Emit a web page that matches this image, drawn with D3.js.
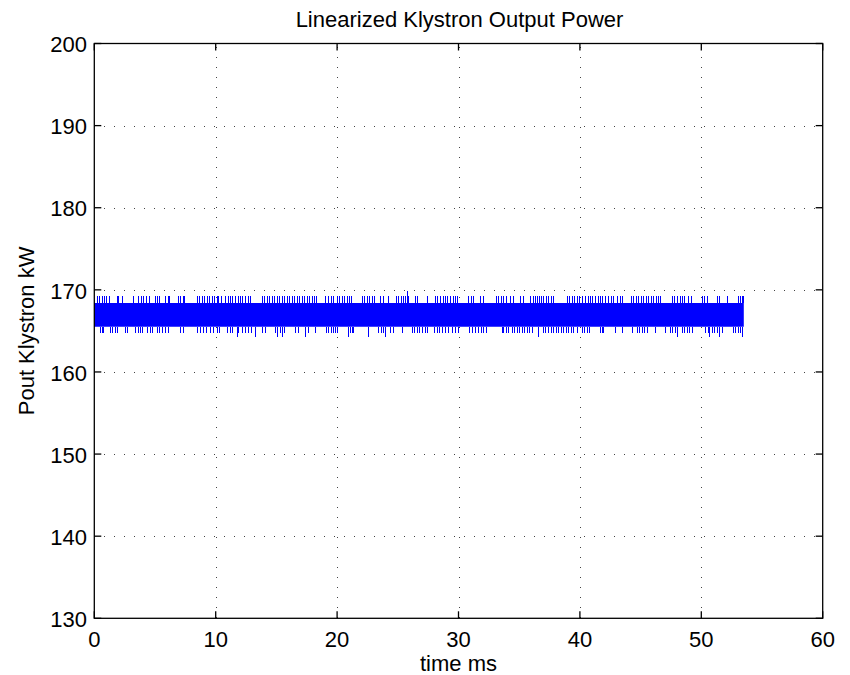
<!DOCTYPE html>
<html>
<head>
<meta charset="utf-8">
<script src="https://cdn.jsdelivr.net/npm/d3@7"></script>
<style>
  html, body { margin: 0; padding: 0; background: #fff; }
  svg { display: block; font-family: "Liberation Sans", Arial, Helvetica, sans-serif; }
</style>
</head>
<body>
<svg id="chart"></svg>
<script>
// axis ranges and ticks
const xDomain = [0, 60];
const yDomain = [130, 200];
const xTicks = [0, 10, 20, 30, 40, 50, 60];
const yTicks = [130, 140, 150, 160, 170, 180, 190, 200];

// solid noise band (ms, kW)
const bandTime = [0, 53.5];
const bandLow = [165.5, 165.5];
const bandHigh = [168.4, 168.4];

// spike levels (kW)
const upLevel = 169.2;
const downLevel = 164.8;
const deepLevel = 164.2;

// spike times (ms)
const upSpikes = [
  0.19, 0.38, 0.6, 0.82, 0.93, 1.21, 1.84, 1.98, 2.25, 3.21, 3.63, 3.85, 4.04, 4.26, 4.51,
  5.0, 5.14, 5.33, 5.82, 6.04, 6.15, 6.87, 7.06, 7.28, 7.42, 8.43, 8.63, 8.85, 9.07, 9.26,
  9.45, 9.67, 9.89, 10.08, 10.22, 10.44, 10.77, 10.99, 11.18, 11.37, 11.59, 11.81, 12.01,
  12.2, 12.42, 12.64, 12.83, 13.79, 14.01, 14.2, 14.4, 14.62, 14.84, 15.03, 15.22, 15.44,
  15.66, 15.85, 16.04, 16.26, 16.48, 16.68, 16.87, 17.09, 17.31, 17.5, 17.69, 17.91, 18.13,
  18.26, 19.0, 19.28, 19.47, 19.69, 19.96, 20.18, 20.38, 20.57, 20.79, 21.01, 21.12, 22.02,
  22.22, 22.43, 22.65, 22.85, 23.04, 23.53, 23.75, 24.22, 24.85, 25.04, 25.24, 25.45, 25.59,
  25.87, 26.42, 26.61, 27.43, 28.06, 28.26, 28.48, 28.7, 28.89, 29.08, 29.3, 29.52, 29.71,
  29.85, 30.81, 31.0, 31.22, 31.77, 31.99, 33.09, 33.28, 33.47, 33.69, 33.91, 34.24, 34.52,
  35.07, 35.34, 35.89, 36.11, 36.3, 36.5, 36.66, 36.8, 36.99, 37.18, 37.4, 37.62, 37.81,
  38.91, 39.1, 39.32, 39.54, 39.73, 39.92, 40.14, 40.42, 40.64, 40.83, 41.03, 41.24, 41.46,
  41.66, 41.79, 42.07, 42.34, 42.56, 42.75, 43.03, 43.3, 43.49, 44.21, 44.4, 44.59, 44.81,
  45.03, 45.22, 45.42, 45.64, 45.86, 46.05, 46.24, 46.46, 46.6, 47.56, 47.78, 47.97, 48.25,
  48.39, 48.6, 48.93, 49.15, 50.03, 50.25, 50.44, 51.26, 51.46, 52.09, 53.05, 53.19, 53.32,
  53.46
];
const tallSpike = [25.73, 169.9];

const downSpikes = [
  0.47, 0.6, 0.74, 1.29, 1.43, 1.7, 1.84, 2.53, 2.66, 3.35, 3.63, 3.76, 3.96, 4.31, 4.59,
  4.73, 5.14, 5.33, 5.55, 5.82, 6.04, 7.06, 7.34, 8.43, 8.71, 8.98, 9.18, 9.53, 9.81, 10.08,
  10.27, 10.91, 11.18, 11.32, 11.87, 12.14, 12.42, 12.69, 12.88, 13.79, 14.07, 14.89, 15.3,
  15.66, 16.54, 16.81, 17.58, 18.18, 19.08, 19.28, 19.47, 19.69, 19.83, 20.02, 21.06, 21.2,
  21.34, 23.4, 23.59, 23.75, 24.36, 24.58, 25.32, 26.14, 26.34, 26.55, 26.77, 26.97, 27.24,
  27.43, 27.98, 28.2, 28.42, 28.61, 28.89, 29.16, 29.44, 29.71, 29.99, 30.89, 31.09, 31.36,
  31.64, 31.83, 32.05, 32.27, 33.56, 33.69, 33.91, 34.1, 34.38, 34.57, 34.79, 35.01, 35.2,
  35.4, 35.62, 35.83, 36.03, 36.99, 37.13, 37.4, 37.62, 37.81, 38.0, 38.22, 38.44, 38.64,
  38.83, 39.05, 39.27, 39.46, 39.73, 40.14, 40.36, 40.56, 40.75, 41.66, 41.79, 41.93, 42.89,
  43.44, 44.27, 44.68, 44.87, 45.09, 45.31, 45.5, 46.19, 47.01, 47.42, 47.61, 47.83, 48.39,
  48.6, 48.79, 48.99, 49.21, 50.3, 50.52, 50.85, 51.07, 51.26, 51.68, 52.64, 52.77, 52.99,
  53.19
];
const deepSpikes = [
  11.73, 13.24, 15.03, 15.44, 17.36, 20.92, 22.57, 23.95, 36.58, 47.97, 50.63, 51.46, 53.38
];

const width = 850;
const height = 675;
const margin = { top: 43.5, right: 27.3, bottom: 56.7, left: 94.3 };
const blue = '#0000ff';
const fontSize = 22;
const tickLen = 7;

const svg = d3.select('#chart').attr('width', width).attr('height', height);

const x = d3.scaleLinear().domain(xDomain).range([margin.left, width - margin.right]);
const y = d3.scaleLinear().domain(yDomain).range([height - margin.bottom, margin.top]);

const x0 = x.range()[0], x1 = x.range()[1];
const y0 = y.range()[0], y1 = y.range()[1];

// dotted grid
const grid = svg.append('g')
  .attr('stroke', '#444')
  .attr('stroke-width', 1)
  .attr('stroke-dasharray', '1,9')
  .attr('shape-rendering', 'crispEdges');

grid.selectAll('.gx')
  .data(xTicks.filter(d => d !== xDomain[0] && d !== xDomain[1]))
  .enter().append('line')
  .attr('x1', d => Math.round(x(d)) + 0.5).attr('x2', d => Math.round(x(d)) + 0.5)
  .attr('y1', y0).attr('y2', y1);

grid.selectAll('.gy')
  .data(yTicks.filter(d => d !== yDomain[0] && d !== yDomain[1]))
  .enter().append('line')
  .attr('x1', x0).attr('x2', x1)
  .attr('y1', d => Math.round(y(d)) + 0.5).attr('y2', d => Math.round(y(d)) + 0.5);

// trace
const plot = svg.append('g');
const bandData = bandTime.map((t, i) => ({ t, lo: bandLow[i], hi: bandHigh[i] }));

plot.append('path')
  .datum(bandData)
  .attr('fill', blue)
  .attr('d', d3.area().x(d => x(d.t)).y0(d => y(d.lo)).y1(d => y(d.hi)));

const spikes = [
  ...upSpikes.map(t => ({ t, from: bandHigh[0], to: upLevel })),
  ...downSpikes.map(t => ({ t, from: bandLow[0], to: downLevel })),
  ...deepSpikes.map(t => ({ t, from: bandLow[0], to: deepLevel })),
  { t: tallSpike[0], from: bandHigh[0], to: tallSpike[1] }
];

plot.selectAll('.spike')
  .data(spikes)
  .enter().append('line')
  .attr('stroke', blue)
  .attr('stroke-width', 1)
  .attr('shape-rendering', 'crispEdges')
  .attr('x1', d => Math.round(x(d.t)) + 0.5).attr('x2', d => Math.round(x(d.t)) + 0.5)
  .attr('y1', d => y(d.from)).attr('y2', d => y(d.to));

// box and inward ticks
const frame = svg.append('g').attr('stroke', '#000').attr('stroke-width', 1.3).attr('fill', 'none');
frame.append('rect')
  .attr('x', x0).attr('y', y1)
  .attr('width', x1 - x0).attr('height', y0 - y1);

xTicks.forEach(d => {
  frame.append('line').attr('x1', x(d)).attr('x2', x(d)).attr('y1', y0).attr('y2', y0 - tickLen);
  frame.append('line').attr('x1', x(d)).attr('x2', x(d)).attr('y1', y1).attr('y2', y1 + tickLen);
});
yTicks.forEach(d => {
  frame.append('line').attr('x1', x0).attr('x2', x0 + tickLen).attr('y1', y(d)).attr('y2', y(d));
  frame.append('line').attr('x1', x1).attr('x2', x1 - tickLen).attr('y1', y(d)).attr('y2', y(d));
});

// tick labels
svg.append('g').selectAll('text')
  .data(xTicks)
  .enter().append('text')
  .attr('x', d => x(d))
  .attr('y', 647)
  .attr('text-anchor', 'middle')
  .attr('font-size', fontSize)
  .attr('fill', '#000')
  .text(d => d);

svg.append('g').selectAll('text')
  .data(yTicks)
  .enter().append('text')
  .attr('x', 87)
  .attr('y', d => y(d) + 8.7)
  .attr('text-anchor', 'end')
  .attr('font-size', fontSize)
  .attr('fill', '#000')
  .text(d => d);

// title and axis labels
svg.append('text')
  .attr('x', (x0 + x1) / 2 + 1)
  .attr('y', 27)
  .attr('text-anchor', 'middle')
  .attr('font-size', fontSize)
  .attr('fill', '#000')
  .text('Linearized Klystron Output Power');

svg.append('text')
  .attr('x', (x0 + x1) / 2)
  .attr('y', 671)
  .attr('text-anchor', 'middle')
  .attr('font-size', fontSize)
  .attr('fill', '#000')
  .text('time ms');

svg.append('text')
  .attr('transform', `translate(34,${(y0 + y1) / 2}) rotate(-90)`)
  .attr('text-anchor', 'middle')
  .attr('font-size', fontSize)
  .attr('fill', '#000')
  .text('Pout Klystron kW');
</script>
</body>
</html>
